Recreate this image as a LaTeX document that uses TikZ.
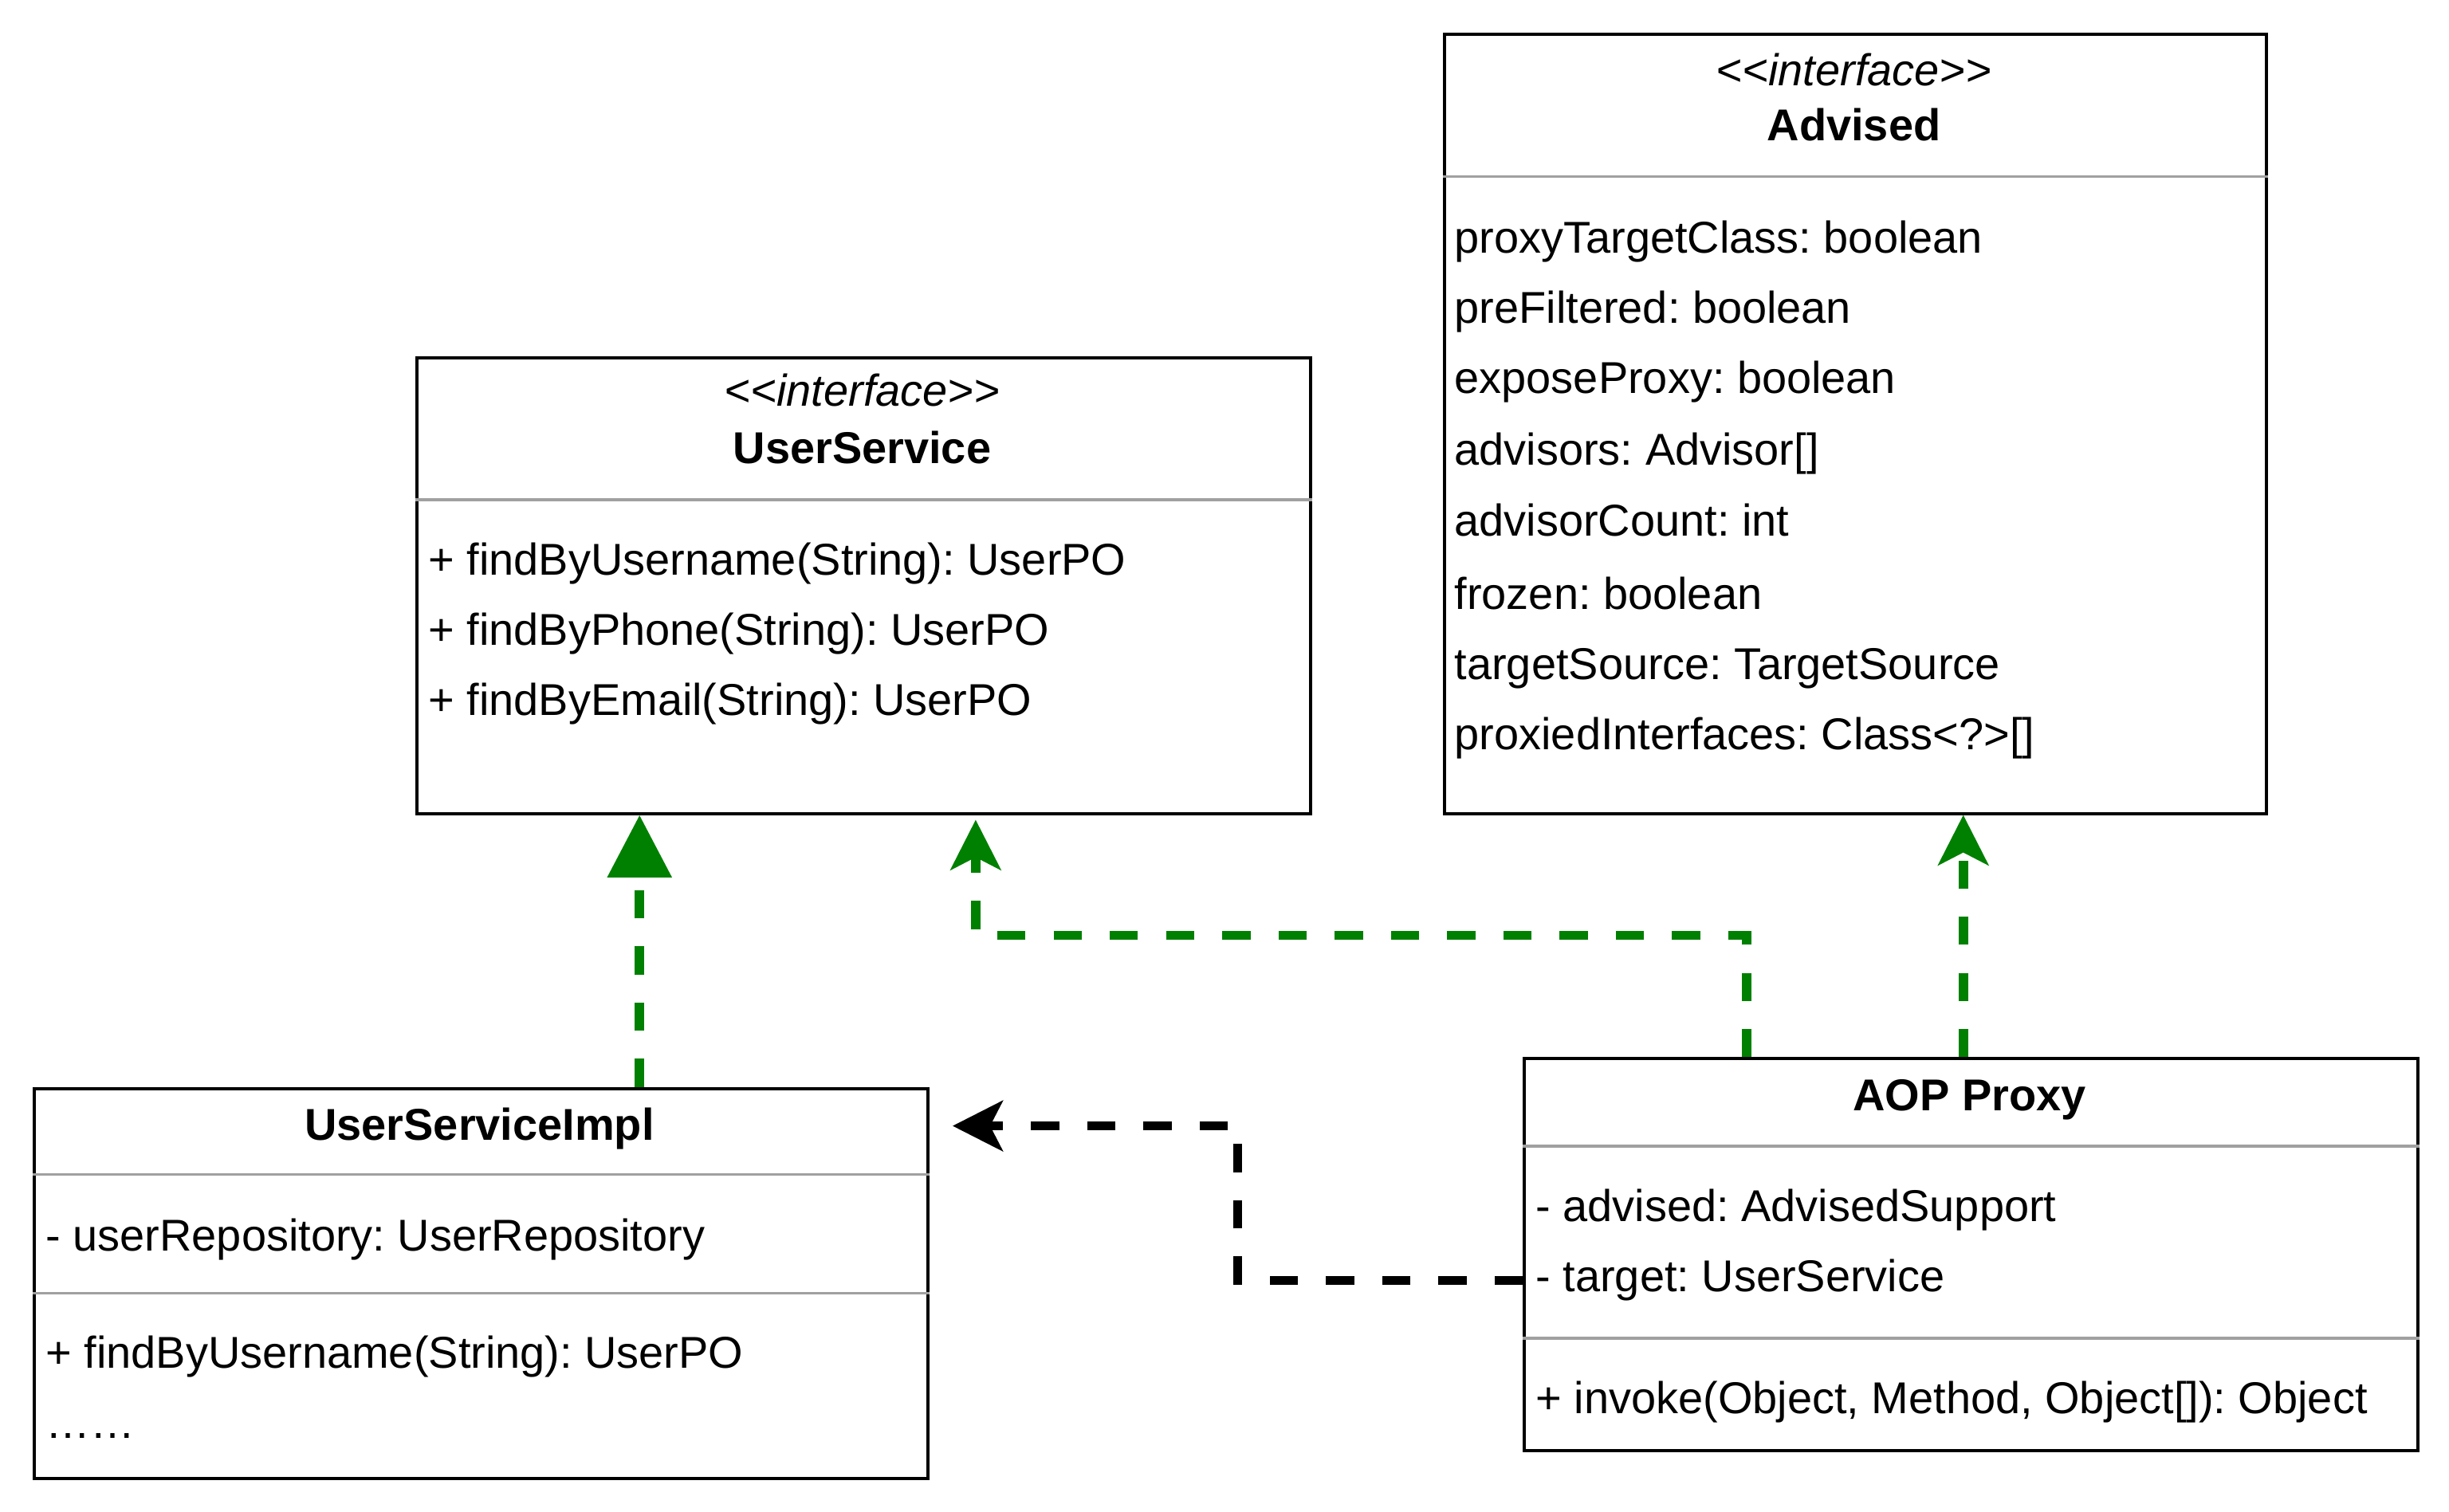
\documentclass[tikz,border=0pt]{standalone}
\usepackage{fontspec}
\setmainfont{Liberation Sans}
\usetikzlibrary{arrows.meta,positioning,calc}
\definecolor{implgreen}{RGB}{0,128,0}
\definecolor{sepgray}{RGB}{160,160,160}
\frenchspacing

\begin{document}
\begin{tikzpicture}[
x=0.02cm,
y=-0.02cm,
every node/.style={
inner sep=0pt,
font=\fontsize{16.25pt}{19pt}\selectfont
},
classbox/.style={
draw,
line width=0.04cm,
anchor=north west,
minimum width=11.44cm
},
member/.style={anchor=base west},
classname/.style={anchor=base,font=\fontsize{16.25pt}{19pt}\selectfont\bfseries},
stereo/.style={anchor=base,font=\fontsize{16.25pt}{19pt}\selectfont\itshape},
sepline/.style={draw=sepgray,line width=0.035cm},
dashline/.style={line width=0.12cm,dash pattern=on 0.36cm off 0.36cm},
implements/.style={dashline,draw=implgreen,-{Triangle[length=0.8cm,width=0.8cm]}},
realizes/.style={dashline,draw=implgreen,-{Stealth[length=0.64cm,width=0.64cm,inset=0.16cm]}},
uses/.style={dashline,draw=black,-{Stealth[length=0.64cm,width=0.64cm,inset=0.16cm]}}
]
\useasboundingbox (0,0) rectangle (1568,968);

% UserService
\node[classbox,minimum height=5.84cm] (us) at (266,228) {};
\node[stereo] (usstereo) at (552,260) {<{}<interface>{}>};
\node[classname] (usname) at (552,297) {UserService};
\draw[sepline] ($(us.north west)+(0,92)$) -- ($(us.north east)+(0,92)$);
\node[member] (usm1) at (274,368) {+ findByUsername(String): UserPO};
\node[member] (usm2) at (274,413) {+ findByPhone(String): UserPO};
\node[member] (usm3) at (274,458) {+ findByEmail(String): UserPO};

% Advised
\node[classbox,minimum width=10.52cm,minimum height=9.98cm] (adv) at (924,21) {};
\node[stereo] (advstereo) at (1187,55) {<{}<interface>{}>};
\node[classname] (advname) at (1187,90) {Advised};
\draw[sepline] ($(adv.north west)+(0,92)$) -- ($(adv.north east)+(0,92)$);
\node[member] (adv1) at (931,162) {proxyTargetClass: boolean};
\node[member] (adv2) at (931,207) {preFiltered: boolean};
\node[member] (adv3) at (931,252) {exposeProxy: boolean};
\node[member] (adv4) at (931,298) {advisors: Advisor[]};
\node[member] (adv5) at (931,343) {advisorCount: int};
\node[member] (adv6) at (931,390) {frozen: boolean};
\node[member] (adv7) at (931,435) {targetSource: TargetSource};
\node[member] (adv8) at (931,480) {proxiedInterfaces: Class<?>[]};

% UserServiceImpl
\node[classbox,minimum height=5cm] (impl) at (21,696) {};
\node[classname] (implname) at (307,730) {UserServiceImpl};
\draw[sepline] ($(impl.north west)+(0,56)$) -- ($(impl.north east)+(0,56)$);
\node[member] (impla) at (29,801) {- userRepository: UserRepository};
\draw[sepline] ($(impl.north west)+(0,132)$) -- ($(impl.north east)+(0,132)$);
\node[member] (implm1) at (29,876) {+ findByUsername(String): UserPO};
\node[member] (implm2) at (29,921) {……};

% AOP Proxy
\node[classbox,minimum height=5.02cm] (proxy) at (975,677) {};
\node[classname] (proxyname) at (1261,711) {AOP Proxy};
\draw[sepline] ($(proxy.north west)+(0,57)$) -- ($(proxy.north east)+(0,57)$);
\node[member] (proxya1) at (983,782) {- advised: AdvisedSupport};
\node[member] (proxya2) at (983,827) {- target: UserService};
\draw[sepline] ($(proxy.north west)+(0,180)$) -- ($(proxy.north east)+(0,180)$);
\node[member] (proxym1) at (983,905) {+ invoke(Object, Method, Object[]): Object};

% connectors
\coordinate (usq) at ($(us.south west)!0.25!(us.south east)$);
\draw[implements] (impl.north -| usq) -- (usq);

\coordinate (pq) at ($(proxy.north west)!0.25!(proxy.north east)$);
\coordinate (ust) at ($(us.south west)!0.625!(us.south east)+(0,3)$);
\draw[realizes] (pq) |- ($(pq)!0.5!(ust)+(0,-2)$) -| (ust);

\coordinate (pc) at ($(proxy.north west)+(282,0)$);
\draw[realizes] (pc) -- (pc |- adv.south);

\coordinate (pt) at ($(proxy.north west)+(0,143)$);
\coordinate (it) at ($(impl.north east)+(15,25)$);
\draw[uses] (pt) -| ($(pt)!0.5!(it)$) |- (it);
\end{tikzpicture}
\end{document}
